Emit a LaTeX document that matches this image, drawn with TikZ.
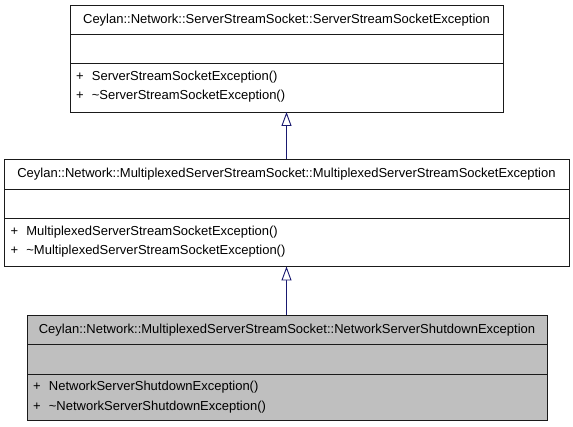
\documentclass[tikz,border=0pt]{standalone}
\usepackage{fontspec}
\setmainfont{Liberation Sans}
\usetikzlibrary{arrows.meta}
\definecolor{edgeblue}{HTML}{191970}
\definecolor{boxgray}{HTML}{BFBFBF}
\definecolor{boxline}{HTML}{1A1A1A}
\newcommand{\plusmark}{+\hspace{4.5pt} }
\tikzset{
  umlbox/.style={draw=boxline, line width=0.9pt, rectangle, inner sep=0pt, outer sep=0pt},
  divider/.style={draw=boxline, line width=0.9pt},
  titletext/.style={anchor=base, inner sep=0pt, font=\fontsize{13}{15.6}\selectfont},
  membertext/.style={anchor=base west, inner sep=0pt, font=\fontsize{13}{15.6}\selectfont},
  inherit/.style={draw=edgeblue, line width=0.9pt, -{Triangle[open, length=14pt, width=10pt, fill=white]}}
}
\begin{document}
\begin{tikzpicture}[x=1pt, y=-1pt]
\useasboundingbox (0,0) rectangle (573,427);
% Box 1
\node[umlbox, minimum width=433pt, minimum height=107pt] (b1) at (286.5,58.5) {};
\draw[divider] (70,34) -- (503,34);
\draw[divider] (70,63.7) -- (503,63.7);
\node[titletext] (t1) at (286.5,23.5) {Ceylan::Network::ServerStreamSocket::ServerStreamSocketException};
\node[membertext] (m1a) at (76,80.5) {\plusmark ServerStreamSocketException()};
\node[membertext] (m1b) at (76,100) {\plusmark\textasciitilde ServerStreamSocketException()};
% Box 2
\node[umlbox, minimum width=565pt, minimum height=107pt] (b2) at (286.5,213) {};
\draw[divider] (4,189.3) -- (569,189.3);
\draw[divider] (4,218.8) -- (569,218.8);
\node[titletext] (t2) at (286.5,178) {Ceylan::Network::MultiplexedServerStreamSocket::MultiplexedServerStreamSocketException};
\node[membertext] (m2a) at (10.5,236) {\plusmark MultiplexedServerStreamSocketException()};
\node[membertext] (m2b) at (10.5,255) {\plusmark\textasciitilde MultiplexedServerStreamSocketException()};
% Box 3
\node[umlbox, fill=boxgray, minimum width=520pt, minimum height=105.5pt] (b3) at (287,367.75) {};
\draw[divider] (27,344) -- (547,344);
\draw[divider] (27,374) -- (547,374);
\node[titletext] (t3) at (287,333.5) {Ceylan::Network::MultiplexedServerStreamSocket::NetworkServerShutdownException};
\node[membertext] (m3a) at (33,391) {\plusmark NetworkServerShutdownException()};
\node[membertext] (m3b) at (33,410) {\plusmark\textasciitilde NetworkServerShutdownException()};
% Inheritance arrows
\draw[inherit] (b2.north -| 286.5,0) -- (b1.south -| 286.5,0);
\draw[inherit] (b3.north -| 286.5,0) -- (b2.south -| 286.5,0);
\end{tikzpicture}
\end{document}
